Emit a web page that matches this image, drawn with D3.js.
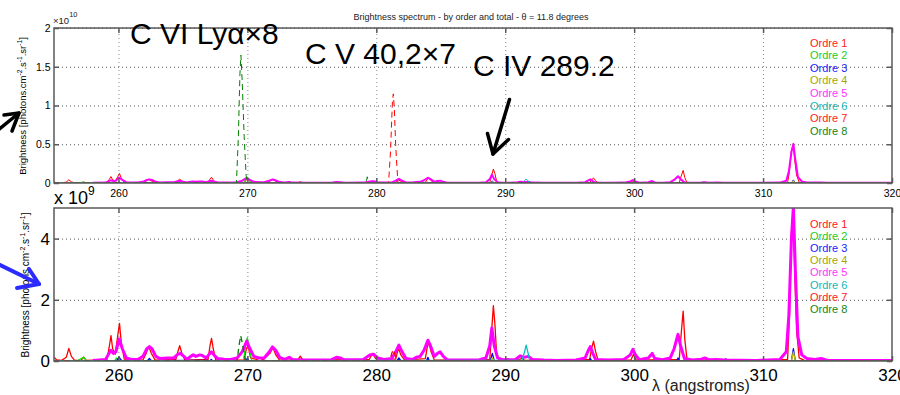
<!DOCTYPE html>
<html>
<head>
<meta charset="utf-8">
<script src="https://cdn.jsdelivr.net/npm/d3@7/dist/d3.min.js"></script>
<style>
  body { margin: 0; background: #fff; }
  svg { display: block; font-family: "Liberation Sans", Arial, Helvetica, sans-serif; }
</style>
</head>
<body>
<svg id="chart" width="900" height="395"></svg>
<script>
// ---- Data: wavelength in angstroms, brightness in units of 1e9 photons.cm-2.s-1.sr-1 ----
const xTicks = [260, 270, 280, 290, 300, 310, 320];
const topYTicks = [0, 0.5, 1, 1.5, 2];   // x 10^10
const bottomYTicks = [0, 2, 4];          // x 10^9
const legendLabels = ["Ordre 1", "Ordre 2", "Ordre 3", "Ordre 4", "Ordre 5", "Ordre 6", "Ordre 7", "Ordre 8"];
const titleText = "Brightness spectrum - by order and total - \u03b8 = 11.8 degrees";

const ordre1 = [
  [255.0,0.12],[255.2,0.04],[255.6,0.02],[255.95,0.12],[256.15,0.41],[256.35,0.15],[256.6,0.02],
  [257.1,0.02],[257.3,0.13],[257.5,0.02],[259.1,0.04],[259.28,0.45],[259.42,0.83],[259.55,0.4],
  [259.75,0.22],[259.95,0.85],[260.08,1.23],[260.22,0.6],[260.45,0.06],[261.9,0.03],[262.15,0.25],
  [262.35,0.47],[262.55,0.25],[262.85,0.03],[264.45,0.05],[264.62,0.32],[264.75,0.5],[264.9,0.28],
  [265.15,0.03],[266.95,0.05],[267.1,0.5],[267.22,0.74],[267.35,0.4],[267.55,0.03],[269.75,0.03],
  [269.92,0.4],[270.05,0.5],[270.25,0.1],[270.7,0.05],[271.0,0.1],[271.2,0.03],[271.75,0.25],
  [271.98,0.44],[272.2,0.2],[272.5,0.03],[273.9,0.03],[274.1,0.16],[274.3,0.03],[279.45,0.05],
  [279.7,0.25],[279.95,0.08],[281.5,0.06],[281.72,0.42],[281.9,0.2],[282.2,0.03],[283.8,0.08],
  [283.95,0.45],[284.08,0.6],[284.25,0.3],[284.5,0.03],[288.8,0.05],[288.95,1.0],[289.08,1.81],
  [289.2,1.2],[289.32,0.3],[289.5,0.04],[291.1,0.04],[291.3,0.1],[291.5,0.02],[296.55,0.05],
  [296.72,0.45],[296.85,0.65],[297.0,0.32],[297.2,0.03],[299.75,0.03],[299.95,0.22],[300.15,0.03],
  [303.5,0.05],[303.65,0.9],[303.8,1.63],[303.93,0.7],[304.1,0.05],[305.2,0.04],[305.4,0.1],
  [305.6,0.02],[311.9,0.05],[312.05,1.5],[312.2,4.2],[312.33,4.95],[312.45,3.0],[312.6,1.0],
  [312.8,0.1],[313.2,0.02],[320.0,0.01]
];

const ordre2 = [
  [255.0,0.0],[256.8,0.0],[257.1,0.08],[257.3,0.12],[257.5,0.02],[259.7,0.0],[259.85,0.1],
  [260.0,0.02],[269.7,0.0],[269.88,0.6],[270.0,0.76],[270.15,0.4],[270.35,0.0],[320.0,0.0]
];

const ordre3 = [
  [255.0,0.01],[259.85,0.01],[260.05,0.12],[260.25,0.01],[262.25,0.01],[262.4,0.08],[262.55,0.01],
  [265.6,0.02],[266.5,0.02],[267.1,0.01],[267.2,0.05],[267.3,0.01],[269.9,0.01],[270.0,0.1],
  [270.1,0.01],[281.6,0.01],[281.75,0.1],[281.9,0.01],[283.9,0.01],[284.0,0.12],[284.1,0.01],
  [288.85,0.01],[289.0,0.25],[289.15,0.01],[296.5,0.01],[296.6,0.08],[296.7,0.01],[303.3,0.01],
  [303.4,0.1],[303.5,0.01],[306.9,0.01],[307.1,0.07],[307.3,0.01],[312.2,0.01],[312.35,0.4],
  [312.5,0.01],[316.5,0.02],[320.0,0.02]
];

const ordre4 = [
  [255.0,0.0],[288.85,0.0],[289.0,0.1],[289.15,0.0],[312.2,0.0],[312.35,0.3],[312.5,0.0],[320.0,0.0]
];

const ordre5 = [
  [258.0,0.02],[259.0,0.05],[259.2,0.2],[259.4,0.35],[259.6,0.25],[259.8,0.3],[260.05,0.72],
  [260.3,0.4],[260.6,0.1],[261.0,0.05],[261.5,0.05],[261.9,0.15],[262.2,0.4],[262.4,0.47],
  [262.6,0.4],[262.9,0.15],[263.2,0.08],[263.8,0.1],[264.3,0.1],[264.6,0.22],[264.8,0.25],
  [265.0,0.18],[265.3,0.06],[265.6,0.15],[265.8,0.2],[266.0,0.15],[266.3,0.2],[266.5,0.18],
  [266.8,0.1],[267.0,0.2],[267.2,0.3],[267.4,0.2],[267.7,0.08],[268.2,0.06],[268.7,0.05],
  [269.2,0.1],[269.6,0.3],[269.95,0.65],[270.2,0.4],[270.5,0.15],[270.9,0.1],[271.3,0.1],
  [271.7,0.3],[271.95,0.46],[272.2,0.35],[272.5,0.12],[272.9,0.05],[273.25,0.12],[273.5,0.05],
  [274.5,0.03],[276.5,0.04],[276.9,0.12],[277.2,0.1],[277.5,0.04],[279.0,0.05],[279.5,0.2],
  [279.8,0.22],[280.1,0.1],[280.6,0.05],[281.2,0.08],[281.5,0.3],[281.75,0.52],[282.0,0.3],
  [282.3,0.08],[282.8,0.05],[283.1,0.12],[283.4,0.15],[283.7,0.35],[284.0,0.68],[284.2,0.5],
  [284.5,0.15],[284.75,0.25],[284.95,0.3],[285.2,0.15],[285.5,0.04],[286.5,0.03],[288.0,0.04],
  [288.5,0.1],[288.8,0.5],[288.96,1.08],[289.15,0.5],[289.4,0.1],[289.8,0.04],[290.8,0.05],
  [291.15,0.17],[291.5,0.12],[291.8,0.15],[292.1,0.05],[293.0,0.03],[294.0,0.02],[295.5,0.03],
  [296.2,0.1],[296.45,0.35],[296.6,0.47],[296.8,0.25],[297.0,0.05],[298.0,0.03],[299.2,0.05],
  [299.7,0.2],[299.9,0.38],[300.1,0.2],[300.4,0.04],[301.1,0.1],[301.4,0.25],[301.6,0.08],
  [302.2,0.04],[302.8,0.1],[303.1,0.4],[303.4,0.87],[303.6,0.5],[303.9,0.08],[304.5,0.03],
  [305.2,0.06],[305.5,0.1],[305.8,0.04],[306.4,0.05],[307.0,0.03],[309.5,0.02],[311.3,0.05],
  [311.8,0.3],[312.0,1.5],[312.2,4.0],[312.35,5.05],[312.5,3.0],[312.7,0.8],[313.0,0.2],
  [313.4,0.08],[314.0,0.05],[314.5,0.08],[315.0,0.02],[320.0,0.02]
];

const ordre6 = [
  [255.0,0.01],[291.3,0.02],[291.5,0.3],[291.62,0.52],[291.75,0.3],[291.9,0.02],[320.0,0.01]
];

const ordre7 = [
  [255.0,0.0],[281.05,0.0],[281.2,0.25],[281.32,0.37],[281.45,0.2],[281.6,0.0],[320.0,0.0]
];

const ordre8 = [
  [256.5,0.0],[269.2,0.0],[269.35,0.5],[269.48,0.83],[269.6,0.6],[269.75,0.2],[269.85,0.05],
  [270.0,0.0],[320.0,0.0]
];

// Orders 7 and 8 as plotted in the upper panel
const ordre7Top = [
  [255.0,0.0],[280.95,0.0],[281.1,4.0],[281.25,10.5],[281.32,11.5],[281.4,9.5],[281.5,5.0],
  [281.6,2.0],[281.68,0.0],[320.0,0.0]
];

const ordre8Top = [
  [256.5,0.0],[269.15,0.0],[269.3,6.0],[269.42,14.0],[269.5,16.5],[269.6,13.0],[269.75,6.0],
  [269.9,1.0],[270.0,0.0],[279.2,0.0],[279.3,0.8],[279.4,0.0],[320.0,0.0]
];

// ---- Styles ----
const orderColors = ["#ff0000", "#00ee00", "#0000ff", "#bfbf00", "#ff00ff", "#00bfbf", "#ff0000", "#008000"];
const legendColors = ["#ff2020", "#22cc22", "#2020ff", "#a6a600", "#ff33ff", "#10b8b8", "#ff2020", "#118811"];
const orderDash = [null, null, null, null, null, null, "6,4", "6,4"];

const svg = d3.select("#chart");
const FONT = '"Liberation Sans", Arial, Helvetica, sans-serif';

const x = d3.scaleLinear().domain([255, 320]).range([54, 892]);

function drawPanel(opts) {
  const { top, bottom, yMax, yTickValues, yTickFactor, series, tickFont, tickPadX, tickPadY,
          thin, thick, clipId } = opts;
  const y = d3.scaleLinear().domain([0, yMax]).range([bottom, top]);
  const g = svg.append("g");

  svg.append("clipPath").attr("id", clipId)
    .append("rect").attr("x", x(255)).attr("y", top)
    .attr("width", x(320) - x(255)).attr("height", bottom - top);

  // grid
  const gridX = xTicks.filter(v => v > 255 && v < 320);
  g.append("g").attr("transform", `translate(0,${bottom})`)
    .call(d3.axisBottom(x).tickValues(gridX).tickSize(-(bottom - top)).tickFormat(""))
    .call(a => a.select(".domain").remove())
    .call(a => a.selectAll("line").attr("stroke", "#8a8a8a").attr("stroke-dasharray", "1,3"));
  g.append("g").attr("transform", `translate(${x(255)},0)`)
    .call(d3.axisLeft(y).tickValues(yTickValues.filter(v => v > 0 && v < yMax).map(v => v * yTickFactor))
      .tickSize(-(x(320) - x(255))).tickFormat(""))
    .call(a => a.select(".domain").remove())
    .call(a => a.selectAll("line").attr("stroke", "#555").attr("stroke-dasharray", "1,3"));

  // spectra
  const line = d3.line().x(d => x(d[0])).y(d => y(d[1]));
  const plot = g.append("g").attr("clip-path", `url(#${clipId})`);
  series.forEach((s, i) => {
    plot.append("path")
      .attr("d", line(s))
      .attr("fill", "none")
      .attr("stroke", orderColors[i])
      .attr("stroke-width", i === 4 ? thick : thin)
      .attr("stroke-dasharray", orderDash[i])
      .attr("stroke-linejoin", "round");
  });

  // box
  g.append("rect").attr("x", x(255)).attr("y", top)
    .attr("width", x(320) - x(255)).attr("height", bottom - top)
    .attr("fill", "none").attr("stroke", "#5a5a5a").attr("stroke-width", 1.5);

  // axes with inward ticks
  const styleAxis = a => {
    a.select(".domain").remove();
    a.selectAll("line").attr("stroke", "#5a5a5a").attr("stroke-width", 1.5);
    a.selectAll("text").attr("font-family", FONT).attr("font-size", tickFont).attr("fill", "#000");
  };
  g.append("g").attr("transform", `translate(0,${bottom})`)
    .call(d3.axisBottom(x).tickValues(xTicks).tickSize(-5).tickPadding(tickPadX).tickFormat(d3.format("d")))
    .call(styleAxis);
  g.append("g").attr("transform", `translate(0,${top})`)
    .call(d3.axisTop(x).tickValues(xTicks).tickSize(-5).tickFormat(""))
    .call(styleAxis);
  g.append("g").attr("transform", `translate(${x(255)},0)`)
    .call(d3.axisLeft(y).tickValues(yTickValues.map(v => v * yTickFactor)).tickSize(-5).tickPadding(tickPadY)
      .tickFormat(v => String(+(v / yTickFactor).toFixed(2))))
    .call(styleAxis);
  g.append("g").attr("transform", `translate(${x(320)},0)`)
    .call(d3.axisRight(y).tickValues(yTickValues.map(v => v * yTickFactor)).tickSize(-5).tickFormat(""))
    .call(styleAxis);
  return g;
}

function legend(x0, y0, step) {
  const lg = svg.append("g");
  legendLabels.forEach((t, i) => {
    lg.append("text").attr("x", x0).attr("y", y0 + i * step)
      .attr("font-family", FONT).attr("font-size", 11).attr("fill", legendColors[i]).text(t);
  });
}

function yLabel(cx, cy, size) {
  const t = svg.append("text")
    .attr("transform", `translate(${cx},${cy}) rotate(-90)`)
    .attr("text-anchor", "middle").attr("font-family", FONT).attr("font-size", size).attr("fill", "#000");
  const parts = [["Brightness [photons.cm", 0], ["-2", 1], [".s", 0], ["-1", 1], [".sr", 0], ["-1", 1], ["]", 0]];
  let up = false;
  parts.forEach(([s, sup]) => {
    const ts = t.append("tspan").text(s);
    if (sup && !up) { ts.attr("dy", -size * 0.4).attr("font-size", size * 0.7); up = true; }
    else if (sup) { ts.attr("font-size", size * 0.7); }
    else if (up) { ts.attr("dy", size * 0.4); up = false; }
  });
}

// ---- Upper panel ----
drawPanel({
  top: 28, bottom: 183, yMax: 20, yTickValues: topYTicks, yTickFactor: 10,
  series: [ordre1, ordre2, ordre3, ordre4, ordre5, ordre6, ordre7Top, ordre8Top],
  tickFont: 10.5, tickPadX: 6.5, tickPadY: 3.5, thin: 1, thick: 2, clipId: "clipTop"
});
legend(810, 46.5, 12.6);
yLabel(26, 106, 9.5);

svg.append("text").attr("x", 471).attr("y", 19.5).attr("text-anchor", "middle")
  .attr("font-family", FONT).attr("font-size", 9).attr("fill", "#222").text(titleText);

const sc10 = svg.append("text").attr("x", 53).attr("y", 24).attr("font-family", FONT)
  .attr("font-size", 9.5).attr("fill", "#222");
sc10.append("tspan").text("\u00d710");
sc10.append("tspan").attr("dy", -7).attr("font-size", 7.5).text("10");

// ---- Lower panel ----
drawPanel({
  top: 208, bottom: 361, yMax: 5, yTickValues: bottomYTicks, yTickFactor: 1,
  series: [ordre1, ordre2, ordre3, ordre4, ordre5, ordre6, ordre7, ordre8],
  tickFont: 17, tickPadX: 8, tickPadY: 4, thin: 1.3, thick: 3, clipId: "clipBottom"
});
legend(810, 227.5, 12.2);
yLabel(29, 285, 10);

const sc9 = svg.append("text").attr("x", 54).attr("y", 203.5).attr("font-family", FONT)
  .attr("font-size", 18).attr("fill", "#000");
sc9.append("tspan").text("x 10");
sc9.append("tspan").attr("dy", -9).attr("font-size", 12).text("9");

svg.append("text").attr("x", 652).attr("y", 391).attr("font-family", FONT)
  .attr("font-size", 16).attr("fill", "#222").text("\u03bb (angstroms)");

// ---- Line identifications ----
const notes = [
  { t: "C VI Ly\u03b1\u00d78", x: 130, y: 43.5 },
  { t: "C V 40,2\u00d77", x: 305, y: 63.5 },
  { t: "C IV 289.2", x: 473, y: 76 }
];
notes.forEach(n => svg.append("text").attr("x", n.x).attr("y", n.y)
  .attr("font-family", FONT).attr("font-size", 30).attr("fill", "#000").text(n.t));

const arrow = (pts, color, w) => svg.append("path")
  .attr("d", d3.line()(pts)).attr("fill", "none").attr("stroke", color)
  .attr("stroke-width", w).attr("stroke-linecap", "round").attr("stroke-linejoin", "round");

// arrow pointing to C IV line
arrow([[509.5, 99.5], [493, 154]], "#000", 3.5);
arrow([[487.5, 133.5], [493, 154], [508.5, 139.5]], "#000", 3.5);
// arrow on the upper brightness axis
arrow([[-2, 130], [19, 113]], "#000", 3.5);
arrow([[4, 115], [19, 113], [12, 131]], "#000", 3.5);
// arrow on the lower brightness axis
arrow([[-2, 264], [39, 284]], "#2b2bff", 4);
arrow([[29, 269], [39, 284], [17, 288]], "#2b2bff", 4);
</script>
</body>
</html>
